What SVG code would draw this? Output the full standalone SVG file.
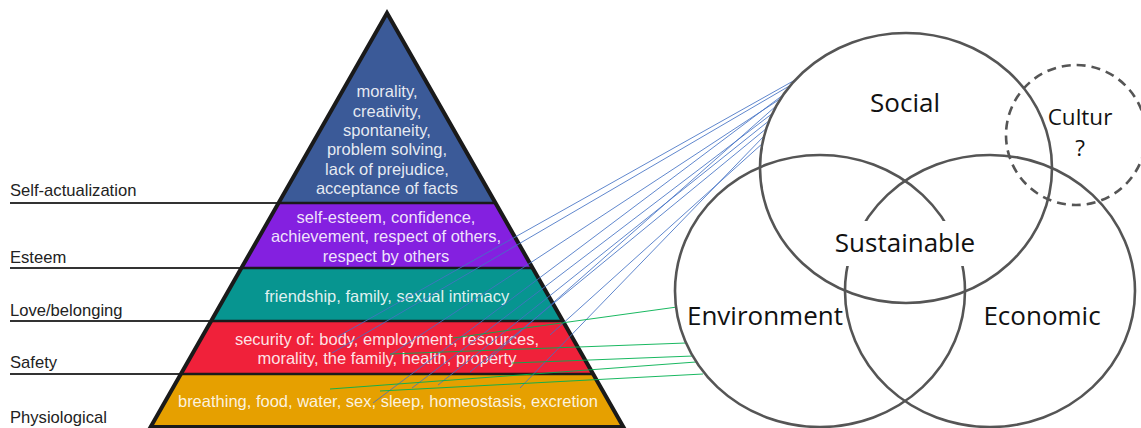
<svg xmlns="http://www.w3.org/2000/svg" width="1141" height="428" viewBox="0 0 1141 428">
  <style>
    .lvl { font-family: "Liberation Sans", Arial, sans-serif; font-size: 16.6px; fill: #222; }
    .ptxt { font-family: "Liberation Sans", Arial, sans-serif; font-size: 16.5px; fill: #ffffff; fill-opacity: 0.88; text-anchor: middle; }
    .rule { stroke: #333; stroke-width: 2; }
    .div { stroke: #1a1a1a; stroke-width: 2.5; }
    .venn { fill: none; stroke: #555; stroke-width: 2.6; }
    .vtxt { font-family: "Open Sans", "Liberation Sans", sans-serif; font-size: 26px; fill: #111; text-anchor: middle; }
    .blue { stroke: #4472c4; stroke-width: 1; stroke-opacity: 0.85; }
    .green { stroke: #00b050; stroke-width: 1; stroke-opacity: 0.9; }
  </style>

  <rect width="1141" height="428" fill="#ffffff"/>

  <!-- level labels with their rules -->
  <g id="label-self-actualization">
    <line class="rule" x1="10" y1="203" x2="279" y2="203"/>
    <text class="lvl" x="10" y="196">Self-actualization</text>
  </g>
  <g id="label-esteem">
    <line class="rule" x1="10" y1="268" x2="242" y2="268"/>
    <text class="lvl" x="10" y="263">Esteem</text>
  </g>
  <g id="label-love">
    <line class="rule" x1="10" y1="321" x2="211" y2="321"/>
    <text class="lvl" x="10" y="316">Love/belonging</text>
  </g>
  <g id="label-safety">
    <line class="rule" x1="10" y1="374" x2="181" y2="374"/>
    <text class="lvl" x="10" y="368">Safety</text>
  </g>
  <g id="label-physiological">
    <text class="lvl" x="10" y="423">Physiological</text>
  </g>

  <!-- pyramid bands -->
  <g id="band-self-actualization">
    <polygon points="387,13 495.5,203 278.5,203" fill="#3b5a98"/>
    <text class="ptxt" x="387" y="97">morality,</text>
    <text class="ptxt" x="387" y="117">creativity,</text>
    <text class="ptxt" x="387" y="136">spontaneity,</text>
    <text class="ptxt" x="387" y="155">problem solving,</text>
    <text class="ptxt" x="387" y="175">lack of prejudice,</text>
    <text class="ptxt" x="387" y="194">acceptance of facts</text>
  </g>
  <g id="band-esteem">
    <polygon points="278.5,203 495.5,203 532.6,268 241.4,268" fill="#8420e0"/>
    <text class="ptxt" x="386" y="223">self-esteem, confidence,</text>
    <text class="ptxt" x="386" y="242">achievement, respect of others,</text>
    <text class="ptxt" x="386" y="262">respect by others</text>
  </g>
  <g id="band-love">
    <polygon points="241.4,268 532.6,268 562.9,321 211.1,321" fill="#079590"/>
    <text class="ptxt" x="387" y="302">friendship, family, sexual intimacy</text>
  </g>
  <g id="band-safety">
    <polygon points="211.1,321 562.9,321 593.1,374 180.9,374" fill="#f0213a"/>
    <text class="ptxt" x="387" y="345">security of: body, employment, resources,</text>
    <text class="ptxt" x="387" y="364">morality, the family, health, property</text>
  </g>
  <g id="band-physiological">
    <polygon points="180.9,374 593.1,374 623.4,427 150.6,427" fill="#e6a000"/>
    <text class="ptxt" x="388" y="407">breathing, food, water, sex, sleep, homeostasis, excretion</text>
  </g>
  <g id="pyramid-outline">
    <line class="div" x1="278.5" y1="203" x2="495.5" y2="203"/>
    <line class="div" x1="241.4" y1="268" x2="532.6" y2="268"/>
    <line class="div" x1="211.1" y1="321" x2="562.9" y2="321"/>
    <line class="div" x1="180.9" y1="374" x2="593.1" y2="374"/>
    <polygon points="387,13 623.4,427 150.6,427" fill="none" stroke="#1a1a1a" stroke-width="4" stroke-linejoin="miter"/>
  </g>

  <!-- links from pyramid needs to the Venn circles -->
  <g id="connectors">
    <line class="blue" x1="332" y1="353" x2="791" y2="85"/>
    <line class="blue" x1="337" y1="337" x2="795" y2="80"/>
    <line class="blue" x1="373" y1="403" x2="783" y2="95"/>
    <line class="blue" x1="390" y1="355" x2="780" y2="99"/>
    <line class="blue" x1="412" y1="388" x2="773" y2="113"/>
    <line class="blue" x1="438" y1="385" x2="770" y2="120"/>
    <line class="blue" x1="470" y1="372" x2="767" y2="128"/>
    <line class="blue" x1="486" y1="362" x2="776" y2="106"/>
    <line class="blue" x1="520" y1="388" x2="765" y2="135"/>
    <line class="blue" x1="550" y1="335" x2="763" y2="143"/>
    <line class="green" x1="453" y1="338" x2="677" y2="307"/>
    <line class="green" x1="390" y1="354" x2="686" y2="343"/>
    <line class="green" x1="512" y1="363" x2="693" y2="356"/>
    <line class="green" x1="330" y1="389" x2="696" y2="362"/>
    <line class="green" x1="380" y1="391" x2="703" y2="374"/>
  </g>

  <!-- Venn diagram -->
  <g id="environment">
    <ellipse class="venn" cx="820" cy="291" rx="145" ry="136"/>
    <text class="vtxt" x="765" y="325">Environment</text>
  </g>
  <g id="economic">
    <ellipse class="venn" cx="990" cy="291" rx="145" ry="136"/>
    <text class="vtxt" x="1042" y="325">Economic</text>
  </g>
  <g id="social">
    <ellipse class="venn" cx="906" cy="168" rx="146" ry="135"/>
    <text class="vtxt" x="905" y="112">Social</text>
  </g>
  <g id="sustainable">
    <rect x="836" y="221" width="138" height="45" fill="#ffffff"/>
    <text class="vtxt" x="905" y="252">Sustainable</text>
  </g>
  <g id="culture">
    <circle cx="1076" cy="135" r="70" fill="none" stroke="#555" stroke-width="2.6" stroke-dasharray="9,6"/>
    <text x="1080" y="125" font-family="'Open Sans', 'Liberation Sans', sans-serif" font-size="22.5" fill="#111" text-anchor="middle">Cultur</text>
    <text x="1080" y="156" font-family="'Open Sans', 'Liberation Sans', sans-serif" font-size="22.5" fill="#111" text-anchor="middle">?</text>
  </g>
</svg>
